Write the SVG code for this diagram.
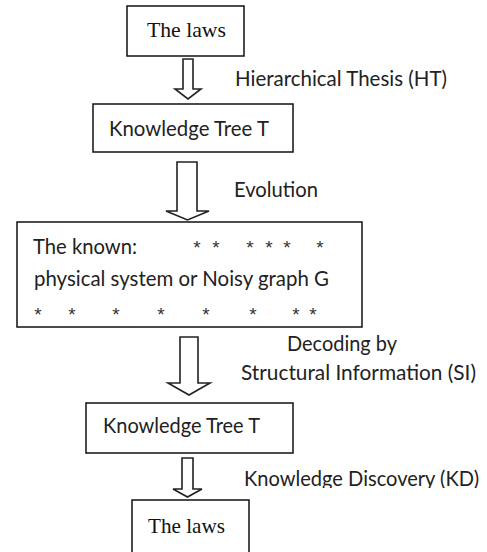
<svg xmlns="http://www.w3.org/2000/svg" width="487" height="552" viewBox="0 0 487 552">
<style>
.box{fill:#fff;stroke:#111;stroke-width:1.5}
.arr{fill:#fff;stroke:#222;stroke-width:1.6;stroke-linejoin:miter}
.t{font-family:Lato,"Liberation Sans",sans-serif;font-size:22px;fill:#222}
.s{font-family:"Liberation Serif",serif;font-size:22px;fill:#111}
.star{font-family:"Liberation Sans",sans-serif;font-size:19px;fill:#333;text-anchor:middle}
</style>
<defs>
<clipPath id="kdclip"><rect x="230" y="460" width="257" height="28"/></clipPath>
</defs>
<rect width="487" height="552" fill="#fff"/>
<g id="connectors">
<polygon class="arr" points="183,59 193,59 193,89 201,89 188,99 175,89 183,89"/>
<polygon class="arr" points="177,162 197,162 197,211 209,211 187.5,220 166,211 177,211"/>
<polygon class="arr" points="180,337 198,337 198,383 210,383 189,395 168,383 180,383"/>
<polygon class="arr" points="182,458 193,458 193,489 202,489 187.5,497 173,489 182,489"/>
<text class="t" x="235" y="86" textLength="212" lengthAdjust="spacingAndGlyphs">Hierarchical Thesis (HT)</text>
<text class="t" x="234" y="197" textLength="84" lengthAdjust="spacingAndGlyphs">Evolution</text>
<text class="t" x="287" y="351" textLength="110" lengthAdjust="spacingAndGlyphs">Decoding by</text>
<text class="t" x="241" y="380" textLength="235" lengthAdjust="spacingAndGlyphs">Structural Information (SI)</text>
<g clip-path="url(#kdclip)"><text class="t" x="244" y="486" textLength="235" lengthAdjust="spacingAndGlyphs">Knowledge Discovery (KD)</text></g>
</g>
<g id="laws-top">
<rect class="box" x="127" y="6" width="117" height="50"/>
<text class="s" x="147" y="37" textLength="79" lengthAdjust="spacingAndGlyphs">The laws</text>
</g>
<g id="tree-top">
<rect class="box" x="93" y="104" width="200" height="48"/>
<text class="t" x="109" y="136" textLength="160" lengthAdjust="spacingAndGlyphs">Knowledge Tree T</text>
</g>
<g id="known">
<rect class="box" x="17" y="222" width="345" height="105"/>
<text class="t" x="33" y="254" textLength="104" lengthAdjust="spacingAndGlyphs">The known:</text>
<text class="star" x="197 216 250 269 287 320" y="254">******</text>
<text class="t" x="34" y="286" textLength="295" lengthAdjust="spacingAndGlyphs">physical system or Noisy graph G</text>
<text class="star" x="38 72 116 161 206 253 296 313" y="321">********</text>
</g>
<g id="tree-bottom">
<rect class="box" x="86" y="403" width="207" height="50"/>
<text class="t" x="103" y="433" textLength="157" lengthAdjust="spacingAndGlyphs">Knowledge Tree T</text>
</g>
<g id="laws-bottom">
<rect class="box" x="132" y="500" width="117" height="60"/>
<text class="s" x="148" y="533" textLength="77" lengthAdjust="spacingAndGlyphs">The laws</text>
</g>
</svg>
